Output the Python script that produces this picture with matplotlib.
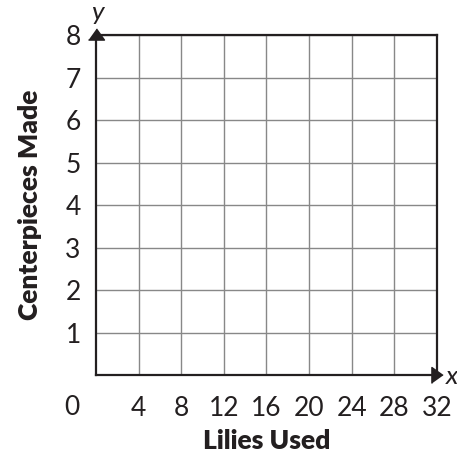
import matplotlib.pyplot as plt

x_ticks = [4, 8, 12, 16, 20, 24, 28, 32]
y_ticks = [1, 2, 3, 4, 5, 6, 7, 8]
x_label = "Lilies Used"
y_label = "Centerpieces Made"

plt.rcParams["font.family"] = ["Lato", "DejaVu Sans"]

fig = plt.figure(figsize=(4.57, 4.57), dpi=100)
ax = fig.add_axes([0.210, 0.1794, 0.746, 0.744])

ax.set_xlim(0, 32)
ax.set_ylim(0, 8)
ax.set_xticks(x_ticks)
ax.set_yticks(y_ticks)
ax.tick_params(length=0, labelsize=19, colors="#231f20")
ax.tick_params(axis="x", pad=15)
ax.tick_params(axis="y", pad=11)
ax.grid(True, color="#888888", linewidth=1)

for s in ax.spines.values():
    s.set_color("#231f20")
    s.set_linewidth(1.6)

# axis arrows
ax.plot(0, 8.035, marker=[(-1, -0.7), (1, -0.7), (0, 0.7)], markersize=11.5,
        color="#231f20", clip_on=False, zorder=5)
ax.plot(32.05, 0, marker=[(-0.7, -1), (-0.7, 1), (0.7, 0)], markersize=11.5,
        color="#231f20", clip_on=False, zorder=5)

ax.annotate("0", xy=(0, 0), xytext=(-24, -32), textcoords="offset pixels",
            ha="center", va="center", fontsize=19, color="#231f20")
ax.annotate("x", xy=(32, 0), xytext=(15, -1), textcoords="offset pixels",
            ha="center", va="center", fontsize=19, style="italic", color="#231f20")
ax.annotate("y", xy=(0, 8), xytext=(1, 23), textcoords="offset pixels",
            ha="center", va="center", fontsize=19, style="italic", color="#231f20")

ax.set_xlabel(x_label, fontsize=19, fontweight="heavy", labelpad=6, color="#231f20")
ax.set_ylabel(y_label, fontsize=19, fontweight="heavy", labelpad=17, color="#231f20")

fig.savefig("out.png", dpi=100)
